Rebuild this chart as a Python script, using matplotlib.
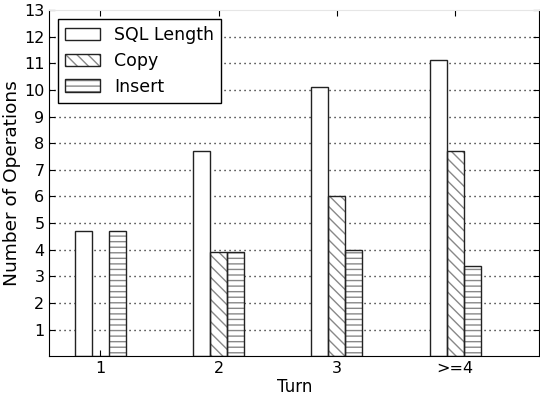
import matplotlib
matplotlib.use("Agg")
import matplotlib.pyplot as plt
import numpy as np

# values
turns = ["1", "2", "3", ">=4"]
sql_length = [4.69, 7.72, 10.1, 11.12]
copy_ops = [0.0, 3.9, 6.0, 7.7]
insert_ops = [4.69, 3.9, 3.99, 3.39]
y_ticks = list(range(1, 14))

plt.rcParams.update({
    "font.family": "DejaVu Sans",
    "font.size": 11.5,
    "hatch.linewidth": 1.0,
    "xtick.direction": "in",
    "ytick.direction": "in",
    "xtick.top": True,
    "ytick.right": True,
    "xtick.major.size": 4,
    "ytick.major.size": 4,
})

fig = plt.figure(figsize=(5.4, 3.96), dpi=100)
ax = fig.add_axes([0.0913, 0.1003, 0.9074, 0.8744])

x = np.arange(len(turns))
width = 0.144
series = [
    ("SQL Length", sql_length, "", -width),
    ("Copy", copy_ops, "\\\\\\", 0.0),
    ("Insert", insert_ops, "---", width),
]

handles = []
for label, values, hatch, off in series:
    # hatch layer in grey, outline layer in black
    fill = ax.bar(x + off, values, width, color="white", edgecolor="#888888",
                  hatch=hatch, linewidth=0, zorder=2)
    edge = ax.bar(x + off, values, width, color="none", edgecolor="#222222",
                  linewidth=1.0, zorder=3)
    handles.append((fill, edge))

leg = ax.legend(handles, [s[0] for s in series], loc="upper left",
                fancybox=False, framealpha=1, edgecolor="black",
                fontsize=12.5, handlelength=2.0, handleheight=0.7,
                borderpad=0.42, labelspacing=0.45, handletextpad=0.8,
                borderaxespad=0.5)
leg.get_frame().set_linewidth(1.0)

ax.set_xlim(-0.43, 3.71)
ax.set_ylim(0, 13)
ax.set_xticks(x, labels=turns)
ax.set_yticks(y_ticks)
ax.yaxis.grid(True, linestyle=(0, (0.8, 2.8)), color="black",
              linewidth=1.0, zorder=0)
ax.get_ygridlines()[-1].set_visible(False)
ax.set_axisbelow(True)
ax.set_xlabel("Turn", fontsize=12, labelpad=1)
ax.set_ylabel("Number of Operations", fontsize=13.3, labelpad=2)
ax.spines["top"].set_color("#e6e6e6")
for s in ["left", "right", "bottom"]:
    ax.spines[s].set_color("black")

fig.savefig("out.png", dpi=100)
